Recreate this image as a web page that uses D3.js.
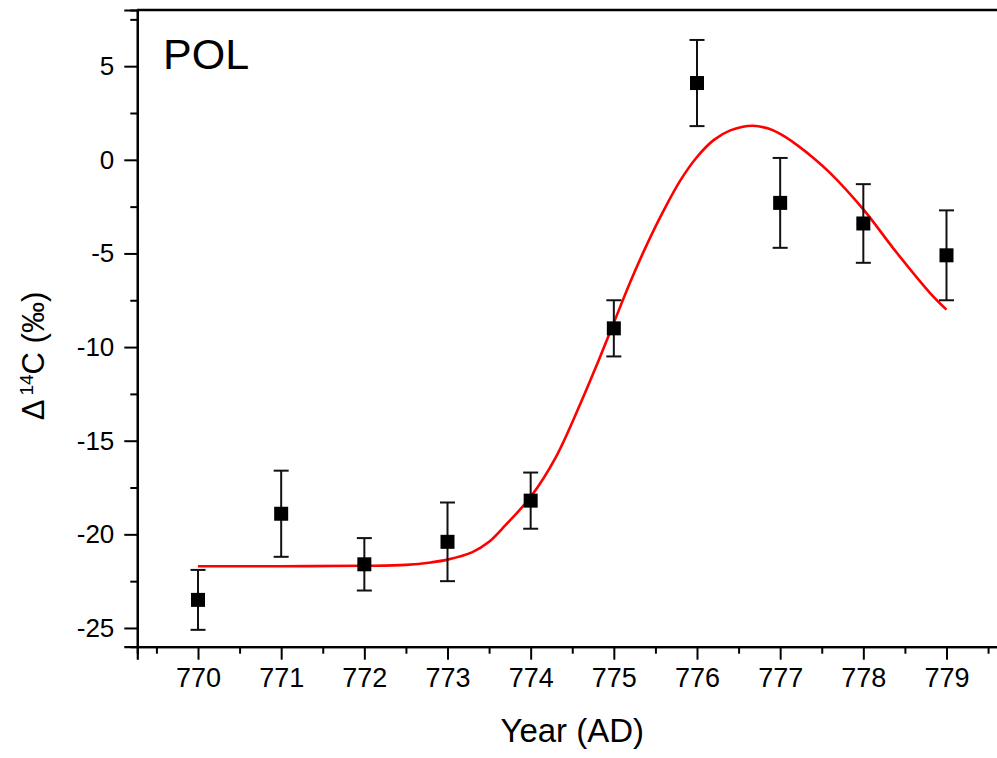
<!DOCTYPE html>
<html>
<head>
<meta charset="utf-8">
<script src="https://cdn.jsdelivr.net/npm/d3@7"></script>
<style>
  html, body { margin: 0; padding: 0; background: #fff; }
  svg { display: block; }
  text { font-family: "Liberation Sans", Arial, sans-serif; fill: #000; }
</style>
</head>
<body>
<svg id="chart" width="997" height="758"></svg>
<script>
// Measured Δ14C values per year with 1σ uncertainties
const years  = [770, 771, 772, 773, 774, 775, 776, 777, 778, 779];
const delta  = [-23.5, -18.9, -21.6, -20.4, -18.2, -9.0, 4.1, -2.3, -3.4, -5.1];
const errors = [1.6, 2.3, 1.4, 2.1, 1.5, 1.5, 2.3, 2.4, 2.1, 2.4];

// Fitted model curve (year, Δ14C)
const fitYears = [770.0, 771.0, 772.0, 772.5, 772.8, 773.0, 773.3, 773.5, 773.7, 774.0,
                  774.3, 774.6, 774.8, 775.0, 775.2, 775.4, 775.6, 775.8, 776.0, 776.2,
                  776.4, 776.67, 776.85, 777.0, 777.2, 777.4, 777.6, 778.0, 778.4, 778.8, 779.0];
const fitDelta = [-21.7, -21.7, -21.68, -21.63, -21.5, -21.35, -20.95, -20.4, -19.5, -18.0,
                  -15.9, -13.0, -10.9, -8.7, -6.5, -4.5, -2.7, -1.1, 0.15, 1.05,
                  1.57, 1.82, 1.68, 1.38, 0.8, 0.1, -0.7, -2.65, -4.95, -7.1, -8.0];

// Axis ticks
const xMajorTicks = [770, 771, 772, 773, 774, 775, 776, 777, 778, 779];
const xMinorTicks = [769.5, 770.5, 771.5, 772.5, 773.5, 774.5, 775.5, 776.5, 777.5, 778.5, 779.5];
const yMajorTicks = [-25, -20, -15, -10, -5, 0, 5];
const yMinorTicks = [-22.5, -17.5, -12.5, -7.5, -2.5, 2.5, 7.5];

const svg = d3.select("#chart");

const plotLeft = 137.3, plotRight = 1007.2, plotTop = 10, plotBottom = 646.7;
const x = d3.scaleLinear().domain([769.27, 779.73]).range([plotLeft, plotRight]);
const y = d3.scaleLinear().domain([-26, 8]).range([plotBottom, plotTop]);

// Frame: top and right lines (right side runs off the page)
svg.append("line")
  .attr("x1", plotLeft).attr("x2", plotRight)
  .attr("y1", plotTop).attr("y2", plotTop)
  .attr("stroke", "#000").attr("stroke-width", 2.5);
svg.append("line")
  .attr("x1", plotRight).attr("x2", plotRight)
  .attr("y1", plotTop).attr("y2", plotBottom)
  .attr("stroke", "#000").attr("stroke-width", 2.5);

const plainLabel = d => String(d);

// X axis
const xAxisG = svg.append("g").attr("transform", `translate(0,${plotBottom})`);
xAxisG.call(d3.axisBottom(x).tickValues(xMajorTicks).tickSize(13).tickPadding(8).tickFormat(plainLabel));
const xMinorG = svg.append("g").attr("transform", `translate(0,${plotBottom})`);
xMinorG.call(d3.axisBottom(x).tickValues(xMinorTicks).tickSize(7).tickFormat(""));

// Y axis
const yAxisG = svg.append("g").attr("transform", `translate(${plotLeft},0)`);
yAxisG.call(d3.axisLeft(y).tickValues(yMajorTicks).tickSize(13).tickPadding(10).tickFormat(plainLabel));
const yMinorG = svg.append("g").attr("transform", `translate(${plotLeft},0)`);
yMinorG.call(d3.axisLeft(y).tickValues(yMinorTicks).tickSize(7).tickFormat(""));

[xAxisG, xMinorG, yAxisG, yMinorG].forEach(g => {
  g.select(".domain").attr("stroke", "#000").attr("stroke-width", 2.2);
  g.selectAll(".tick line").attr("stroke", "#000").attr("stroke-width", 2);
});
xAxisG.selectAll(".tick text")
  .attr("font-size", 27)
  .attr("dy", "0.71em");
yAxisG.selectAll(".tick text")
  .attr("font-size", 26);

// Axis titles
svg.append("text")
  .attr("x", (plotLeft + plotRight) / 2).attr("y", 742)
  .attr("text-anchor", "middle")
  .attr("font-size", 33)
  .text("Year (AD)");

const yTitle = svg.append("text")
  .attr("transform", "translate(43.5,356) rotate(-90)")
  .attr("text-anchor", "middle")
  .attr("font-size", 31);
yTitle.append("tspan").text("\u0394");
yTitle.append("tspan").attr("font-size", 19).attr("dy", -11).attr("dx", 4).text("14");
yTitle.append("tspan").attr("dy", 11).text("C (\u2030)");

// Panel label
svg.append("text")
  .attr("x", 163).attr("y", 69)
  .attr("font-size", 43)
  .text("POL");

// Fit curve
const line = d3.line()
  .x((d, i) => x(fitYears[i]))
  .y(d => y(d))
  .curve(d3.curveCatmullRom.alpha(0.5));
svg.append("path")
  .datum(fitDelta)
  .attr("d", line)
  .attr("fill", "none")
  .attr("stroke", "#ff0000")
  .attr("stroke-width", 2.6);

// Error bars
const pts = years.map((yr, i) => ({ yr, v: delta[i], e: errors[i] }));
const capW = 7.5;
const eb = svg.append("g").attr("stroke", "#111").attr("stroke-width", 2);
eb.selectAll("line.v").data(pts).join("line").attr("class", "v")
  .attr("x1", d => x(d.yr)).attr("x2", d => x(d.yr))
  .attr("y1", d => y(d.v + d.e)).attr("y2", d => y(d.v - d.e));
eb.selectAll("line.t").data(pts).join("line").attr("class", "t")
  .attr("x1", d => x(d.yr) - capW).attr("x2", d => x(d.yr) + capW)
  .attr("y1", d => y(d.v + d.e)).attr("y2", d => y(d.v + d.e));
eb.selectAll("line.b").data(pts).join("line").attr("class", "b")
  .attr("x1", d => x(d.yr) - capW).attr("x2", d => x(d.yr) + capW)
  .attr("y1", d => y(d.v - d.e)).attr("y2", d => y(d.v - d.e));

// Markers
const ms = 14;
svg.append("g").selectAll("rect").data(pts).join("rect")
  .attr("x", d => x(d.yr) - ms / 2)
  .attr("y", d => y(d.v) - ms / 2)
  .attr("width", ms).attr("height", ms)
  .attr("fill", "#000");
</script>
</body>
</html>
